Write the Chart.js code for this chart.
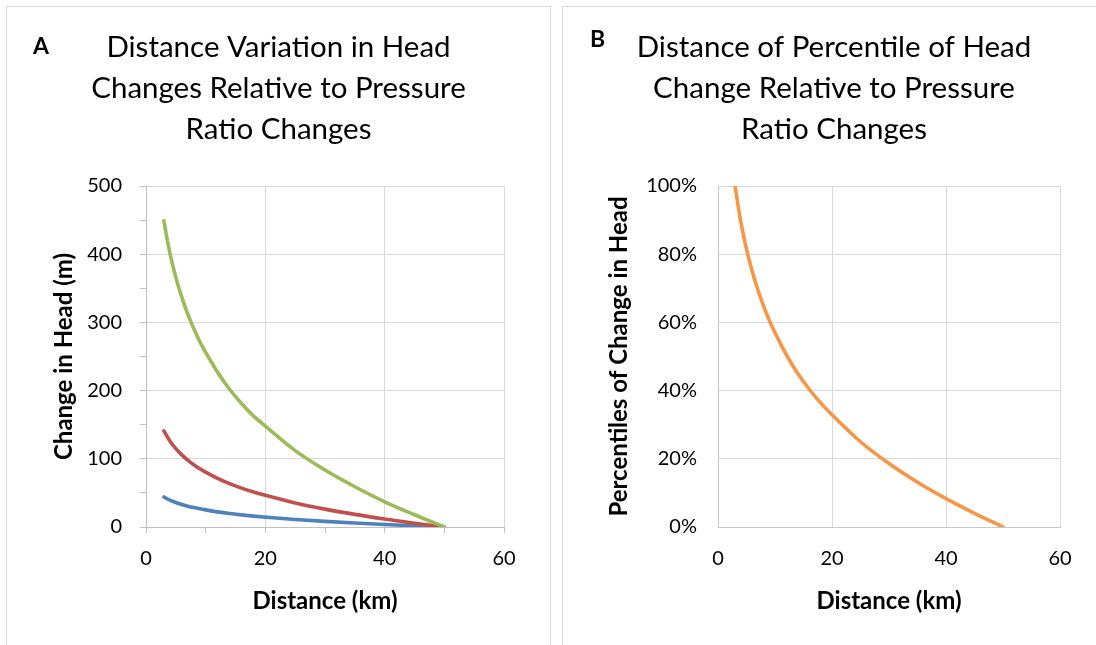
<!DOCTYPE html>
<html>
<head>
<meta charset="utf-8">
<script src="https://cdn.jsdelivr.net/npm/chart.js@4.4.1/dist/chart.umd.min.js"></script>
<style>
  html, body { margin: 0; padding: 0; background: #fff; }
  body { width: 1096px; height: 645px; overflow: hidden; position: relative; font-family: Lato, "Open Sans", sans-serif; }
  .panel { position: absolute; top: 6px; height: 700px; border: 1px solid #d9d9d9; background: #fff; }
  #panelA { left: 6px; width: 543px; }
  #panelB { left: 562px; width: 600px; }
  .panel canvas { position: absolute; left: 0; top: 0; }
  .tag { position: absolute; font-weight: bold; font-size: 23px; line-height: 23px; color: #000; }
</style>
</head>
<body>
<div class="panel" id="panelA">
  <canvas id="chartA" width="543" height="638"></canvas>
  <div class="tag" style="left:26px; top:27px;">A</div>
</div>
<div class="panel" id="panelB">
  <canvas id="chartB" width="533" height="638"></canvas>
  <div class="tag" style="left:27px; top:20px;">B</div>
</div>
<script>
// -------- DATA --------
const distance = [3, 3.5, 4, 5, 6, 7, 8, 9, 10, 12, 14, 16, 18, 20, 25, 30, 35, 40, 45, 50];
const headGreen = [449, 424, 402, 366, 337, 312, 291, 272, 256, 227, 202, 181, 163, 148, 112, 83.5, 59, 37, 18, 0];
const headRed = [141, 133.2, 126.2, 114.9, 105.8, 98, 91.4, 85.4, 80.4, 71.2, 63.5, 57, 51.3, 46.4, 35.3, 26.2, 18.5, 11.7, 5.6, 0];
const headBlue = [44, 41.6, 39.4, 35.9, 33, 30.6, 28.5, 26.7, 25.1, 22.2, 19.8, 17.8, 16, 14.5, 11, 8.2, 5.8, 3.7, 1.8, 0];
const headPercentile = [100, 94.5, 89.5, 81.5, 75, 69.5, 64.8, 60.6, 57, 50.5, 45, 40.4, 36.4, 32.9, 25, 18.6, 13.1, 8.3, 4, 0];

const distanceLabels = [0, 20, 40, 60];
const headLabels = [0, 100, 200, 300, 400, 500];
const percentLabels = [0, 20, 40, 60, 80, 100];

const titleA = ["Distance Variation in Head", "Changes Relative to Pressure", "Ratio Changes"];
const titleB = ["Distance of Percentile of Head", "Change Relative to Pressure", "Ratio Changes"];

Chart.defaults.font.family = "Lato";
Chart.defaults.color = "#000";

const points = vals => distance.map((d, i) => ({ x: d, y: vals[i] }));

function series(vals, color) {
    return {
        data: points(vals),
        borderColor: color,
        backgroundColor: color,
        borderWidth: 3.6,
        borderCapStyle: "round",
        borderJoinStyle: "round",
        pointRadius: 0,
        cubicInterpolationMode: "monotone",
        fill: false
    };
}

const tickFont = { family: "Lato", size: 20 };
const axisTitleFont = { family: "Lato", size: 24, weight: "bold" };
const chartTitleFont = { family: "Lato", size: 29.5, weight: "normal", lineHeight: 1.39 };

// invisible right box so the plot ends where the reference does
function spacer(w) {
    return {
        position: "right",
        display: true,
        grid: { display: false },
        border: { display: false },
        ticks: { display: false },
        afterFit: s => { s.width = w; }
    };
}

// -------- CHART A --------
new Chart(document.getElementById("chartA"), {
    type: "line",
    data: {
        datasets: [
            series(headGreen, "#9BBB59"),
            series(headRed, "#C0504D"),
            series(headBlue, "#4F81BD")
        ]
    },
    options: {
        responsive: false,
        animation: false,
        devicePixelRatio: 1,
        layout: { padding: 0 },
        plugins: {
            legend: { display: false },
            tooltip: { enabled: false },
            title: { display: true, text: titleA, font: chartTitleFont, color: "#000", padding: { top: 20, bottom: 36 } }
        },
        scales: {
            x: {
                type: "linear",
                min: 0, max: 60,
                ticks: {
                    stepSize: 10, autoSkip: false, maxRotation: 0, padding: 14, font: tickFont,
                    callback: v => distanceLabels.includes(v) ? v : ""
                },
                grid: {
                    color: c => (c.tick && c.tick.value % 20 === 0) ? "#d9d9d9" : "rgba(0,0,0,0)",
                    tickColor: "#bfbfbf", tickLength: 6, lineWidth: 1
                },
                border: { color: "#bfbfbf", width: 1 },
                title: { display: true, text: "Distance (km)", font: axisTitleFont, padding: { top: 0, bottom: 29.3 } },
                afterFit: s => { s.height = 118; }
            },
            y: {
                min: 0, max: 500,
                ticks: {
                    stepSize: 50, autoSkip: false, padding: 18, font: tickFont,
                    callback: v => headLabels.includes(v) ? v : ""
                },
                grid: {
                    color: c => (c.tick && c.tick.value % 100 === 0) ? "#d9d9d9" : "rgba(0,0,0,0)",
                    tickColor: "#bfbfbf", tickLength: 6, lineWidth: 1
                },
                border: { color: "#bfbfbf", width: 1 },
                title: { display: true, text: "Change in Head (m)", font: axisTitleFont, padding: { top: 43.3, bottom: 0 } },
                afterFit: s => { s.width = 139; }
            },
            pad: spacer(46)
        }
    }
});

// -------- CHART B --------
new Chart(document.getElementById("chartB"), {
    type: "line",
    data: {
        datasets: [series(headPercentile, "#F79646")]
    },
    options: {
        responsive: false,
        animation: false,
        devicePixelRatio: 1,
        layout: { padding: { left: 9, right: 0, top: 0, bottom: 0 } },
        plugins: {
            legend: { display: false },
            tooltip: { enabled: false },
            title: { display: true, text: titleB, font: chartTitleFont, color: "#000", padding: { top: 20, bottom: 36 } }
        },
        scales: {
            x: {
                type: "linear",
                min: 0, max: 60,
                ticks: { stepSize: 20, autoSkip: false, maxRotation: 0, padding: 20, font: tickFont },
                grid: { color: "#d9d9d9", drawTicks: false, lineWidth: 1 },
                border: { color: "#c8c8c8", width: 1 },
                title: { display: true, text: "Distance (km)", font: axisTitleFont, padding: { top: 0, bottom: 29.3 } },
                afterFit: s => { s.height = 118; }
            },
            y: {
                min: 0, max: 100,
                ticks: {
                    stepSize: 20, autoSkip: false, padding: 21, font: tickFont,
                    callback: v => percentLabels.includes(v) ? v + "%" : ""
                },
                grid: { color: "#d9d9d9", drawTicks: false, lineWidth: 1 },
                border: { color: "#c8c8c8", width: 1 },
                title: { display: true, text: "Percentiles of Change in Head", font: axisTitleFont, padding: { top: 33.3, bottom: 0 } },
                afterFit: s => { s.width = 146; }
            },
            pad: spacer(36)
        }
    }
});
</script>
</body>
</html>
